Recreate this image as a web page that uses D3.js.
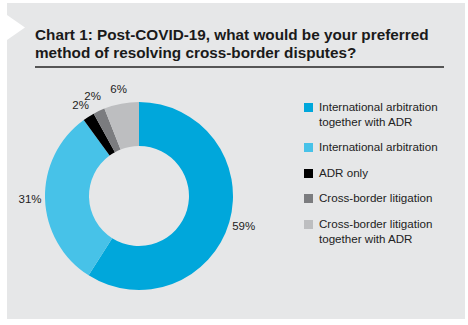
<!DOCTYPE html>
<html><head><meta charset="utf-8">
<script src="https://cdn.jsdelivr.net/npm/d3@7"></script>
<style>html,body{margin:0;padding:0;background:#fff;}svg{display:block;font-family:"Liberation Sans",Arial,sans-serif;}</style>
</head><body>
<script>
const categories = ["International arbitration together with ADR","International arbitration","ADR only","Cross-border litigation","Cross-border litigation together with ADR"];
const legendLines = [["International arbitration","together with ADR"],["International arbitration"],["ADR only"],["Cross-border litigation"],["Cross-border litigation","together with ADR"]];
const values = [59,31,2,2,6];
const colors = ["#00A7DB","#47C2E8","#000000","#7B7C7F","#BDBEC0"];
const titleLines = ["Chart 1: Post-COVID-19, what would be your preferred","method of resolving cross-border disputes?"];

const W=468,H=325;
const svg=d3.select("body").append("svg").attr("width",W).attr("height",H);
svg.append("rect").attr("x",7).attr("y",3).attr("width",458).attr("height",316).attr("fill","#E6E7E8");
svg.append("path").attr("d","M7,15L25,27.5L7,40Z").attr("fill","#fff");

const t=svg.append("text").attr("x",35).attr("y",40).attr("font-size",15.3).attr("font-weight","bold").attr("fill","#1a1a1a");
titleLines.forEach((l,i)=>t.append("tspan").attr("x",35).attr("y",40+i*17.8).text(l));
svg.append("line").attr("x1",35).attr("x2",444).attr("y1",67).attr("y2",67).attr("stroke","#555").attr("stroke-width",2);

const cx=139,cy=196,R=94,r=50;
const pie=d3.pie().sort(null).value(d=>d)(values);
const arc=d3.arc().innerRadius(r).outerRadius(R);
const g=svg.append("g").attr("transform",`translate(${cx},${cy})`);
g.selectAll("path").data(pie).join("path").attr("d",arc).attr("fill",(d,i)=>colors[i]);
const lab=d3.arc().innerRadius(109).outerRadius(109);
// label positions with simple vertical collision resolution
const pos=pie.map(d=>lab.centroid(d));
const fs=11.5, lw=17, lh=9.5;
for(let k=0;k<3;k++){
  for(let i=0;i<pos.length;i++)for(let j=i+1;j<pos.length;j++){
    const a=pos[i],b=pos[j];
    if(Math.abs(a[0]-b[0])<lw && Math.abs(a[1]-b[1])<lh){
      const need=(lh-Math.abs(a[1]-b[1]))/2;
      if(a[1]>=b[1]){a[1]+=need;b[1]-=need;}else{a[1]-=need;b[1]+=need;}
    }
  }
}
g.selectAll("text").data(pie).join("text")
  .attr("transform",(d,i)=>`translate(${pos[i]})`)
  .attr("text-anchor","middle").attr("dy","0.35em")
  .attr("font-size",fs).attr("fill","#222").text(d=>d.value+"%");

const legY=[103,143,169,194,220];
const lg=svg.append("g");
legendLines.forEach((lines,i)=>{
  lg.append("rect").attr("x",304).attr("y",legY[i]).attr("width",9).attr("height",9).attr("fill",colors[i]);
  const tx=lg.append("text").attr("font-size",11.6).attr("fill","#222");
  lines.forEach((l,j)=>tx.append("tspan").attr("x",319).attr("y",legY[i]+8+j*14.5).text(l));
});
</script>
</body></html>
